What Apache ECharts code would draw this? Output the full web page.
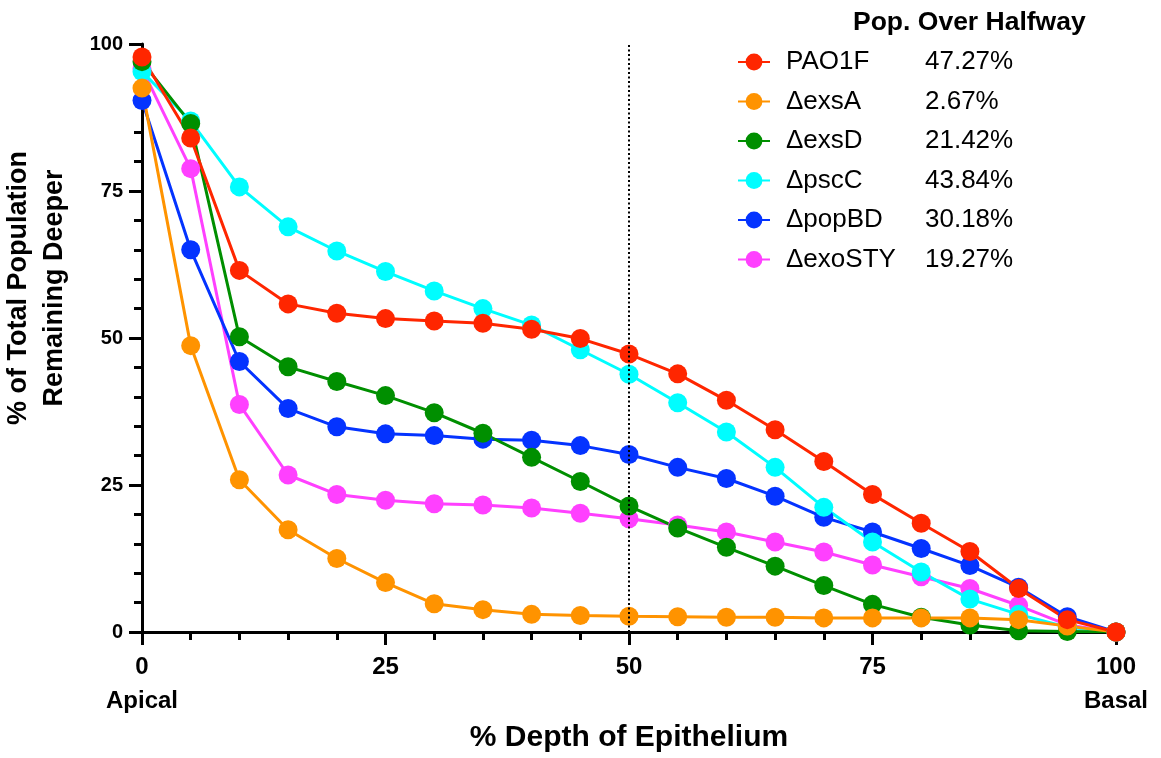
<!DOCTYPE html>
<html>
<head>
<meta charset="utf-8">
<script src="https://cdn.jsdelivr.net/npm/echarts@6/dist/echarts.min.js"></script>
<style>html,body{margin:0;padding:0;background:#fff}#c{width:1161px;height:758px}</style>
</head>
<body>
<div id="c"></div>
<script>
// ---- data ----
var depth = [0,5,10,15,20,25,30,35,40,45,50,55,60,65,70,75,80,85,90,95,100];
var names = ['PAO1F','ΔexsA','ΔexsD','ΔpscC','ΔpopBD','ΔexoSTY'];
var overHalfway = [47.27, 2.67, 21.42, 43.84, 30.18, 19.27];
var colors = ['#ff2600','#ff9300','#008f00','#00fdff','#0433ff','#ff40ff'];
var PAO1F  = [97.8,84.0,61.5,55.8,54.2,53.3,52.9,52.5,51.5,49.9,47.27,43.9,39.4,34.4,29.0,23.4,18.5,13.7,7.4,2.1,0];
var exsA   = [92.5,48.7,25.9,17.4,12.5,8.4,4.8,3.8,3.0,2.8,2.67,2.6,2.5,2.5,2.4,2.4,2.4,2.4,2.1,1.0,0];
var exsD   = [97.0,86.5,50.2,45.1,42.6,40.2,37.3,33.8,29.7,25.6,21.42,17.7,14.4,11.2,7.9,4.7,2.5,1.2,0.2,0.1,0];
var pscC   = [95.3,86.9,75.7,68.9,64.8,61.3,58.0,55.0,52.2,48.0,43.84,39.0,34.0,28.0,21.2,15.3,10.2,5.6,3.0,0.8,0];
var popBD  = [90.4,65.0,46.0,38.0,34.9,33.7,33.4,32.8,32.6,31.7,30.18,28.0,26.1,23.1,19.5,17.0,14.2,11.3,7.6,2.6,0];
var exoSTY = [95.8,78.8,38.7,26.7,23.4,22.4,21.8,21.6,21.1,20.2,19.27,18.2,17.0,15.3,13.6,11.4,9.4,7.4,4.5,1.2,0];
var xTicks = {0:'0\nApical', 25:'25', 50:'50', 75:'75', 100:'100\nBasal'};
var halfwayMark = 50;

var values = [PAO1F, exsA, exsD, pscC, popBD, exoSTY];
var FONT = 'Liberation Sans, Arial, Helvetica, sans-serif';

function pairs(arr){ return depth.map(function(d,i){ return [d, arr[i]]; }); }

// draw in reverse order so PAO1F is on top
var series = [];
for (var k = names.length - 1; k >= 0; k--) {
  var s = {
    name: names[k],
    type: 'line',
    data: pairs(values[k]),
    symbol: 'circle',
    symbolSize: 19,
    showAllSymbol: true,
    itemStyle: { color: colors[k] },
    lineStyle: { color: colors[k], width: 3 },
    emphasis: { disabled: true },
    animation: false
  };
  if (k === 0) {
    s.markLine = {
      silent: true,
      symbol: 'none',
      label: { show: false },
      lineStyle: { color: '#000', type: [2, 2.5], width: 2 },
      data: [{ xAxis: halfwayMark }],
      animation: false
    };
  }
  series.push(s);
}

var chart = echarts.init(document.getElementById('c'));
chart.setOption({
  backgroundColor: '#fff',
  animation: false,
  title: {
    text: 'Pop. Over Halfway',
    left: 853, top: 9, padding: 0,
    textStyle: { fontFamily: FONT, fontSize: 26.5, fontWeight: 'bold', color: '#000' }
  },
  legend: {
    data: names,
    orient: 'vertical',
    left: 737, top: 49, padding: 0,
    itemWidth: 32, itemHeight: 21,
    itemGap: 13.5,
    selectedMode: false,
    formatter: function (name) {
      var i = names.indexOf(name);
      return '{n|' + name + '}{p|' + overHalfway[i].toFixed(2) + '%}';
    },
    textStyle: {
      fontFamily: FONT, fontSize: 26, color: '#000',
      rich: {
        n: { fontFamily: FONT, fontSize: 26, color: '#000', width: 139, padding: [0, 0, 0, 11] },
        p: { fontFamily: FONT, fontSize: 26, color: '#000' }
      }
    }
  },
  grid: { left: 142, right: 45, top: 44, bottom: 121, containLabel: false },
  xAxis: {
    type: 'value', min: 0, max: 100, interval: 25,
    name: '% Depth of Epithelium', nameLocation: 'middle', nameGap: 91,
    nameTextStyle: { fontFamily: FONT, fontSize: 30, fontWeight: 'bold', color: '#000' },
    axisLine: { show: true, onZero: false, lineStyle: { color: '#000', width: 3 } },
    axisTick: { show: true, length: 13, lineStyle: { color: '#000', width: 3 } },
    minorTick: { show: true, splitNumber: 5, length: 8, lineStyle: { color: '#000', width: 3 } },
    splitLine: { show: false },
    axisLabel: {
      margin: 18, fontFamily: FONT, fontSize: 24, fontWeight: 'bold', color: '#000', lineHeight: 34,
      formatter: function (v) { return xTicks[v] !== undefined ? xTicks[v] : ''; }
    }
  },
  yAxis: {
    type: 'value', min: 0, max: 100, interval: 25,
    axisLine: { show: true, onZero: false, lineStyle: { color: '#000', width: 3 } },
    axisTick: { show: true, length: 13, lineStyle: { color: '#000', width: 3 } },
    minorTick: { show: true, splitNumber: 5, length: 8, lineStyle: { color: '#000', width: 3 } },
    splitLine: { show: false },
    axisLabel: { margin: 19, fontFamily: FONT, fontSize: 20, fontWeight: 'bold', color: '#000' }
  },
  graphic: [{
    type: 'text',
    x: 37, y: 288,
    rotation: Math.PI / 2,
    style: {
      text: '% of Total Population\nRemaining Deeper',
      font: 'bold 27px ' + FONT,
      fill: '#000',
      textAlign: 'center',
      textVerticalAlign: 'middle',
      lineHeight: 36
    }
  }],
  series: series
});
</script>
</body>
</html>
